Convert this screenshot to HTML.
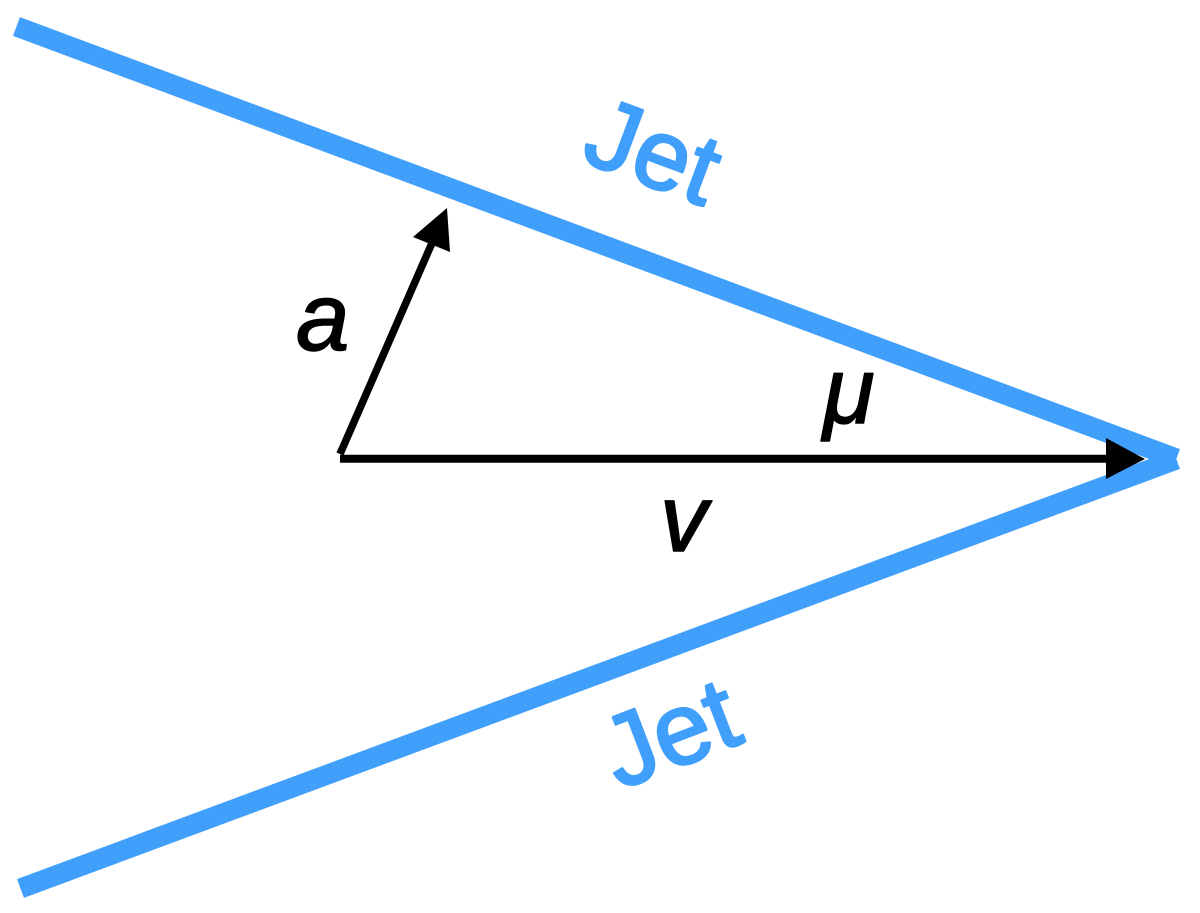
<!DOCTYPE html>
<html>
<head>
<meta charset="utf-8">
<style>
html,body{margin:0;padding:0;background:#fff;}
svg{display:block;}
text{font-family:"Liberation Sans",sans-serif;text-rendering:geometricPrecision;stroke-linejoin:round;}
</style>
</head>
<body>
<svg width="1200" height="913" viewBox="0 0 1200 913" xmlns="http://www.w3.org/2000/svg">
<line x1="16.5" y1="26.5" x2="1176.5" y2="458.5" stroke="#419ffc" stroke-width="20"/>
<line x1="20.5" y1="888.5" x2="1176.5" y2="459.5" stroke="#419ffc" stroke-width="20"/>
<line x1="340" y1="458.8" x2="1115" y2="458.8" stroke="#000" stroke-width="8"/>
<polygon points="1145,459 1106,438 1106,479" fill="#000"/>
<line x1="340" y1="454" x2="432" y2="243" stroke="#000" stroke-width="7.5"/>
<polygon points="447,208 413,237 450,252" fill="#000"/>
<text transform="translate(579,160) rotate(20.4)" font-size="100" fill="#419ffc" stroke="#419ffc" stroke-width="2.5">Jet</text>
<text transform="translate(619,790) rotate(-21)" font-size="102" fill="#419ffc" stroke="#419ffc" stroke-width="2.5">Jet</text>
<text x="296" y="350" font-size="96" font-style="italic" fill="#000" stroke="#000" stroke-width="1.5">a</text>
<text x="823" y="423" font-size="94" font-style="italic" fill="#000" stroke="#000" stroke-width="1.5">μ</text>
<text x="660" y="551" font-size="95" font-style="italic" fill="#000" stroke="#000" stroke-width="1.5">v</text>
</svg>
</body>
</html>
